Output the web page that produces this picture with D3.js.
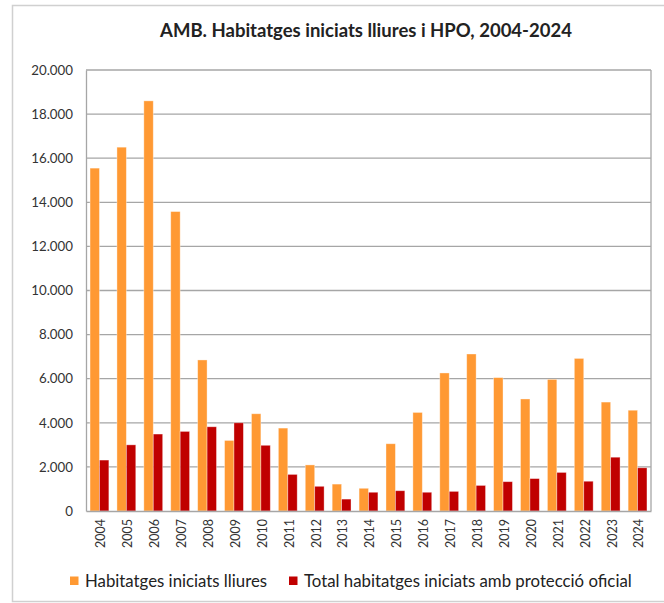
<!DOCTYPE html>
<html><head><meta charset="utf-8">
<script src="https://cdn.jsdelivr.net/npm/d3@7"></script>
<style>html,body{margin:0;padding:0;background:#fff;}svg{display:block;font-family:Lato,"Open Sans",sans-serif;}</style>
</head><body><svg id="c" width="664" height="603"></svg>
<script>
const years = ["2004","2005","2006","2007","2008","2009","2010","2011","2012","2013","2014","2015","2016","2017","2018","2019","2020","2021","2022","2023","2024"];
const lliures = [15550,16500,18600,13580,6850,3200,4410,3760,2090,1220,1030,3050,4470,6260,7120,6050,5080,5970,6920,4940,4570];
const hpo = [2310,3000,3490,3610,3820,4000,2980,1660,1120,540,850,920,850,890,1160,1330,1470,1750,1350,2440,1960];
const seriesNames = ["Habitatges iniciats lliures","Total habitatges iniciats amb protecció oficial"];
const seriesColors = ["#FF9933","#C00000"];
const yTicks = [0,2000,4000,6000,8000,10000,12000,14000,16000,18000,20000];
const title = "AMB. Habitatges iniciats lliures i HPO, 2004-2024";

const svg = d3.select("#c");
const L=86, R=651, T=70, B=511;
svg.append("rect").attr("x",12.5).attr("y",5.5).attr("width",680).attr("height",596).attr("fill","none").attr("stroke","#D0D0D0").attr("stroke-width",1.5);

const x = d3.scaleBand().domain(years).range([L,R]).paddingInner(0.3).paddingOuter(0.15);
const xs = d3.scaleBand().domain([0,1]).range([0,x.bandwidth()]);
const y = d3.scaleLinear().domain([0,20000]).range([B,T]);
const fmt = d3.formatLocale({decimal:",",thousands:".",grouping:[3]}).format(",");

svg.append("text").attr("x",366).attr("y",37).attr("text-anchor","middle").attr("font-weight","bold").attr("font-size",18.5).attr("fill","#222").text(title);

// gridlines
svg.append("g").selectAll("line").data(yTicks.filter(d=>d>0)).join("line")
  .attr("x1",L).attr("x2",R).attr("y1",d=>y(d)).attr("y2",d=>y(d)).attr("stroke","#A6A6A6").attr("stroke-width",1.3);
svg.append("line").attr("x1",R).attr("x2",R).attr("y1",T).attr("y2",B).attr("stroke","#A6A6A6").attr("stroke-width",1.3);

const data = [lliures,hpo];
data.forEach((vals,si)=>{
  svg.append("g").selectAll("rect").data(vals).join("rect")
    .attr("x",(d,i)=>x(years[i])+xs(si)).attr("width",xs.bandwidth())
    .attr("y",d=>y(d)).attr("height",d=>B-y(d))
    .attr("fill",seriesColors[si]).attr("stroke","rgba(255,255,255,0.45)").attr("stroke-width",0.8);
});

// y axis
const ya = svg.append("g").attr("transform",`translate(${L},0)`).call(d3.axisLeft(y).tickValues(yTicks).tickFormat(fmt).tickSize(0).tickPadding(13));
ya.select(".domain").attr("stroke","#A6A6A6").attr("stroke-width",1.3);
ya.selectAll("text").attr("font-size",13.3).attr("fill","#333").attr("font-family","Lato");

// x axis
const xa = svg.append("g").attr("transform",`translate(0,${B})`).call(d3.axisBottom(x).tickSize(0).tickPadding(0));
xa.select(".domain").attr("stroke","#A6A6A6").attr("stroke-width",1.3);
xa.selectAll("text").attr("font-size",12.5).attr("fill","#333").attr("font-family","Lato")
  .attr("transform","rotate(-90)").attr("text-anchor","end").attr("dy","0.35em").attr("x",-8).attr("y",1.5);

// legend
const leg = [{x:70,t:seriesNames[0],c:seriesColors[0]},{x:289,t:seriesNames[1],c:seriesColors[1]}];
leg.forEach(l=>{
  svg.append("rect").attr("x",l.x).attr("y",576.5).attr("width",8.5).attr("height",8.5).attr("fill",l.c);
  svg.append("text").attr("x",l.x+15).attr("y",586.5).attr("font-size",16.8).attr("fill","#222").text(l.t);
});
</script></body></html>
